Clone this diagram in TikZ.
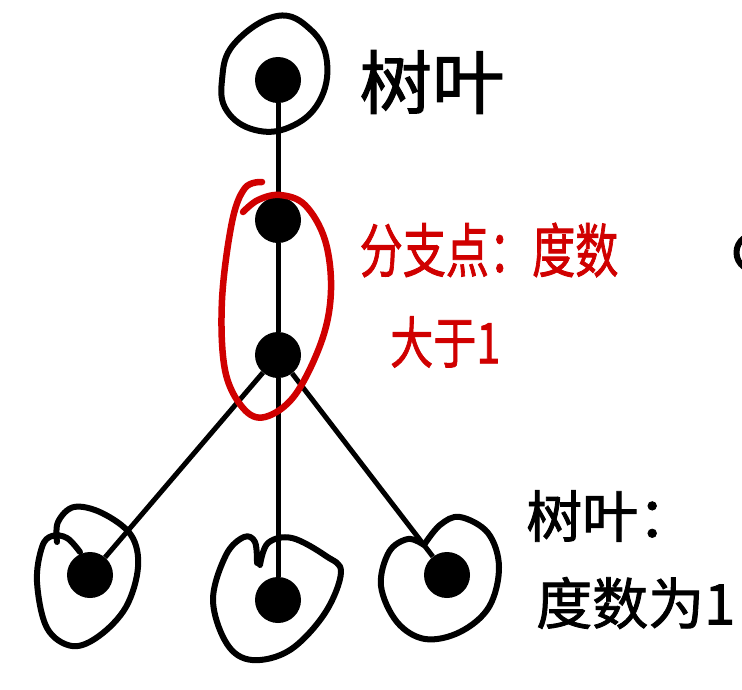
\documentclass[tikz,border=0pt]{standalone}
\usepackage{fontspec}
\newfontfamily\cjk[FakeBold=1.5]{Noto Sans CJK SC}
\definecolor{penred}{RGB}{208,0,0}
\tikzset{
  dot/.style={circle, fill=black, minimum size=46pt, inner sep=0pt},
  edge/.style={line width=5pt, black},
  loop/.style={line width=6pt, black, line cap=round, line join=round},
  redloop/.style={line width=6.5pt, penred, line cap=round, line join=round},
  lbl/.style={inner sep=0pt, font=\cjk},
}
\begin{document}
\begin{tikzpicture}[x=1pt, y=-1pt]
\useasboundingbox (0,0) rectangle (742,689);
\fill[white] (0,0) rectangle (742,689);
% vertices
\node[dot] (t)  at (278,80)  {};
\node[dot] (m1) at (278,220) {};
\node[dot] (m2) at (278,355) {};
\node[dot] (bl) at (90,575)  {};
\node[dot] (bm) at (278,600) {};
\node[dot] (br) at (447,575) {};
% edges
\draw[edge] (t) -- (m1);
\draw[edge] (m1) -- (m2);
\draw[edge] (m2) -- (bl);
\draw[edge] (m2) -- (bm);
\draw[edge] (m2) -- (br);
% loops round the leaves
\draw[loop] plot[smooth cycle, tension=0.7] coordinates {(277,16) (311,30) (327,62) (319,102) (290,127) (255,130) (227,111) (222,80) (234,44)};
\draw[loop] plot[smooth, tension=0.6] coordinates {(57,542) (58,522) (74,507) (102,513) (131,535) (138,567) (126,607) (99,636) (72,646) (47,628) (37,582) (42,547) (52,536) (67,538) (80,552)};
\draw[loop] plot[smooth, tension=0.6] coordinates {(257,563) (255,542) (244,537) (226,555) (213,600) (227,644) (252,660) (290,650) (325,613) (341,572) (326,556) (292,538) (268,543) (260,565)};
\draw[loop] plot[smooth, tension=0.6] coordinates {(424,545) (440,525) (460,517) (488,533) (499,567) (489,607) (460,632) (425,639) (397,622) (381,586) (389,552) (408,539) (424,545)};
% red ellipse round the branch points
\draw[redloop] plot[smooth, tension=0.6] coordinates {(262,182) (245,188) (232,222) (222,300) (225,370) (243,408) (265,417) (295,395) (322,340) (331,290) (325,240) (305,205) (280,195) (258,200) (243,212)};
% partial mark at right edge
\draw[loop] (744,238) .. controls (734,245) and (734,260) .. (744,267);
% labels
\node[lbl, font=\cjk\fontsize{66}{66}\selectfont] (l1) at (432,82) {\scalebox{1.1}[1.05]{树叶}};
\node[lbl, text=penred, font=\cjk\fontsize{56}{56}\selectfont] (l2) at (489,250) {\scalebox{0.77}[1.05]{分支点：度数}};
\node[lbl, text=penred, font=\cjk\fontsize{56}{56}\selectfont, anchor=west] (l3) at (390,342) {\scalebox{0.77}[1]{大于1}};
\node[lbl, font=\cjk\fontsize{56}{56}\selectfont, anchor=west] (l4) at (526,516) {树叶：};
\node[lbl, font=\cjk\fontsize{56}{56}\selectfont, anchor=west] (l5) at (536,603) {度数为1};
\end{tikzpicture}
\end{document}
